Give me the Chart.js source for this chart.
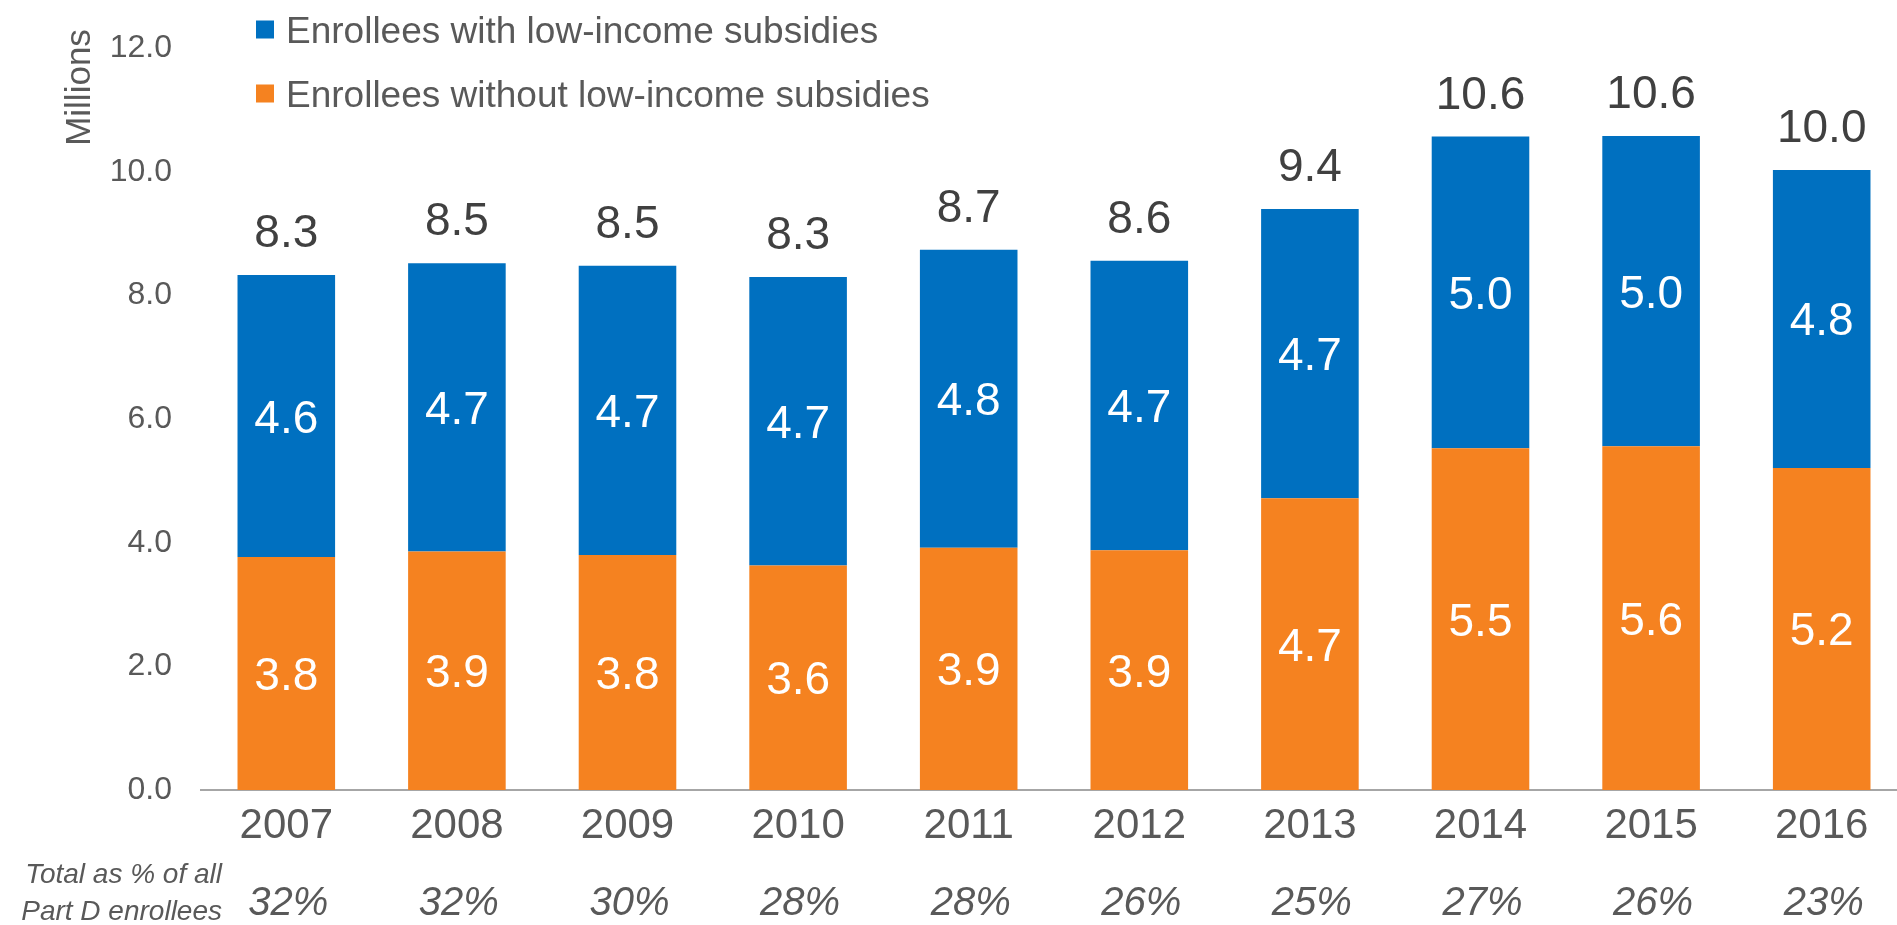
<!DOCTYPE html>
<html lang="en">
<head>
    <meta charset="UTF-8">
    <title>Part D enrollees with and without low-income subsidies</title>
    <style>
        html, body {
            margin: 0;
            padding: 0;
            background: #ffffff;
            overflow: hidden;
        }
        #wrap {
            width: 1907px;
            height: 925px;
            position: relative;
        }
    </style>
</head>
<body>
    <div id="wrap"><canvas id="enrolleeChart"></canvas></div>

    <script src="https://cdn.jsdelivr.net/npm/chart.js"></script>
    <script>
        // enrollees in millions, by year
        const years = ['2007', '2008', '2009', '2010', '2011', '2012', '2013', '2014', '2015', '2016'];
        const withLIS = [4.56, 4.66, 4.68, 4.67, 4.82, 4.68, 4.68, 5.04, 5.02, 4.82];
        const withoutLIS = [3.77, 3.86, 3.80, 3.63, 3.92, 3.88, 4.72, 5.53, 5.56, 5.21];
        const shareOfPartD = ['32%', '32%', '30%', '28%', '28%', '26%', '25%', '27%', '26%', '23%'];
        const yTicks = [0, 2, 4, 6, 8, 10, 12];

        const FONT = '"Liberation Sans", Arial, sans-serif';
        const GREY = '#595959';
        const BLUE = '#0070C0';
        const ORANGE = '#F58220';

        // value labels, legend, axis title and the share row under the years
        const extras = {
            id: 'extras',
            afterDatasetsDraw(chart) {
                const c = chart.ctx;
                const x = chart.scales.x;
                const y = chart.scales.y;
                c.save();

                // labels inside each segment
                c.font = '46px ' + FONT;
                c.fillStyle = '#ffffff';
                c.textAlign = 'center';
                c.textBaseline = 'alphabetic';
                chart.data.datasets.forEach((ds, di) => {
                    const meta = chart.getDatasetMeta(di);
                    meta.data.forEach((bar, i) => {
                        const mid = (bar.y + bar.base) / 2;
                        c.fillText(ds.data[i].toFixed(1), bar.x, mid + 16.5);
                    });
                });

                // totals above the stacks
                c.fillStyle = '#404040';
                years.forEach((yr, i) => {
                    const total = withLIS[i] + withoutLIS[i];
                    c.fillText(total.toFixed(1), x.getPixelForValue(i), y.getPixelForValue(total) - 28);
                });

                // share of all Part D enrollees
                c.font = 'italic 40px ' + FONT;
                c.fillStyle = GREY;
                shareOfPartD.forEach((p, i) => {
                    c.fillText(p, x.getPixelForValue(i) + 2, 915);
                });
                c.font = 'italic 28px ' + FONT;
                c.textAlign = 'right';
                c.fillText('Total as % of all', 222, 883);
                c.fillText('Part D enrollees', 222, 920);

                // y axis title
                c.save();
                c.translate(90, 87.5);
                c.rotate(-Math.PI / 2);
                c.textAlign = 'center';
                c.font = '35px ' + FONT;
                c.fillText('Millions', 0, 0);
                c.restore();

                // legend, top series first
                c.font = '37px ' + FONT;
                c.textAlign = 'left';
                const items = chart.data.datasets.slice().reverse();
                items.forEach((ds, k) => {
                    const cy = 29.5 + k * 64;
                    c.fillStyle = ds.backgroundColor;
                    c.fillRect(256, cy - 9, 18, 18);
                    c.fillStyle = GREY;
                    c.fillText(ds.label, 286, cy + 13.5);
                });

                c.restore();
            }
        };

        const ctx = document.getElementById('enrolleeChart').getContext('2d');
        const enrolleeChart = new Chart(ctx, {
            type: 'bar',
            data: {
                labels: years,
                datasets: [
                    {
                        label: 'Enrollees without low-income subsidies',
                        data: withoutLIS,
                        backgroundColor: ORANGE,
                        borderWidth: 0,
                        categoryPercentage: 1,
                        barPercentage: 0.572
                    },
                    {
                        label: 'Enrollees with low-income subsidies',
                        data: withLIS,
                        backgroundColor: BLUE,
                        borderWidth: 0,
                        categoryPercentage: 1,
                        barPercentage: 0.572
                    }
                ]
            },
            options: {
                responsive: true,
                maintainAspectRatio: false,
                animation: false,
                devicePixelRatio: 1,
                layout: {
                    padding: { left: 0, right: 0, top: 41, bottom: 0 }
                },
                plugins: {
                    legend: { display: false },
                    tooltip: { enabled: false }
                },
                scales: {
                    x: {
                        stacked: true,
                        grid: { display: false, drawTicks: false },
                        border: { display: true, color: '#A6A6A6', width: 2 },
                        ticks: {
                            color: GREY,
                            font: { family: FONT, size: 42 },
                            padding: 11,
                            maxRotation: 0
                        },
                        afterFit(scale) {
                            scale.height = 135;
                        }
                    },
                    y: {
                        stacked: true,
                        min: 0,
                        max: 12,
                        grid: { display: false, drawTicks: false },
                        border: { display: false },
                        afterBuildTicks(scale) {
                            scale.ticks = yTicks.map(v => ({ value: v }));
                        },
                        ticks: {
                            color: GREY,
                            font: { family: FONT, size: 32 },
                            padding: 29,
                            callback: v => Number(v).toFixed(1)
                        },
                        afterFit(scale) {
                            scale.width = 201;
                        }
                    }
                }
            },
            plugins: [extras]
        });
    </script>
</body>
</html>
